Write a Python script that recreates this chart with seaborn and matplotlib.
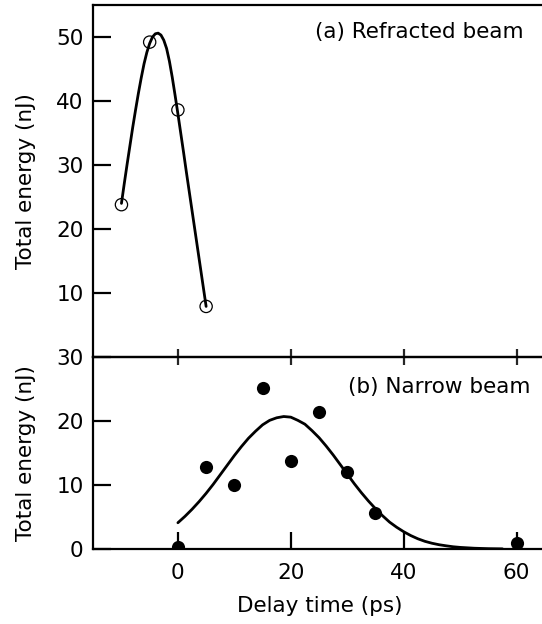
import matplotlib
matplotlib.use("Agg")
import matplotlib.pyplot as plt
import seaborn as sns
import pandas as pd

# ---- data ----
# (a) Refracted beam: measured points (open circles)
a_delay = [-10, -5, 0, 5]
a_energy = [23.8, 49.2, 38.6, 7.9]
# (a) smooth guide curve
a_curve_delay = [-10, -9.5, -9, -8.5, -8, -7.5, -7, -6.5, -6, -5.5, -5, -4.5, -4, -3.5, -3,
                 -2.5, -2, -1.5, -1, -0.5, 0, 0.5, 1, 1.5, 2, 2.5, 3, 3.5, 4, 4.5, 5]
a_curve_energy = [24.0, 27.1, 30.1, 33.0, 35.9, 38.6, 41.2, 43.6, 45.8, 47.6, 49.0, 50.0, 50.5, 50.6, 50.3,
                  49.5, 48.2, 46.2, 43.7, 40.9, 38.0, 35.0, 32.0, 28.9, 25.9, 22.9, 19.9, 16.9, 13.9, 10.9, 7.9]

# (b) Narrow beam: measured points (filled circles)
b_delay = [0, 5, 10, 15, 20, 25, 30, 35, 60]
b_energy = [0.3, 12.8, 10.0, 25.2, 13.7, 21.4, 12.0, 5.6, 1.0]
# (b) fitted curve
b_curve_delay = [0, 1.25, 2.5, 3.75, 5, 6.25, 7.5, 8.75, 10, 11.25, 12.5, 13.75, 15, 16.25,
                 17.5, 18.75, 20, 21.25, 22.5, 23.75, 25, 26.25, 27.5, 28.75, 30, 31.25,
                 32.5, 33.75, 35, 36.25, 37.5, 38.75, 40, 41.25, 42.5, 43.75, 45, 46.25,
                 47.5, 48.75, 50, 52.5, 55, 57.5]
b_curve_energy = [4.1, 5.1, 6.2, 7.4, 8.7, 10.1, 11.6, 13.1, 14.6, 16.0, 17.3, 18.4, 19.4, 20.1,
                  20.5, 20.7, 20.6, 20.1, 19.5, 18.5, 17.4, 16.1, 14.7, 13.2, 11.7, 10.2,
                  8.8, 7.5, 6.3, 5.2, 4.2, 3.4, 2.7, 2.1, 1.6, 1.2, 0.9, 0.67,
                  0.5, 0.35, 0.25, 0.12, 0.05, 0.02]

x_ticks = [0, 20, 40, 60]
a_yticks = [10, 20, 30, 40, 50]
b_yticks = [0, 10, 20, 30]

sns.set_theme(style="white")
plt.rcParams['font.family'] = ['DejaVu Sans']
FS = 15.5

fig = plt.figure(figsize=(5.42, 6.24), dpi=100)
gs = fig.add_gridspec(2, 1, height_ratios=[55, 30], hspace=0,
                      left=0.172, right=1.0, top=0.992, bottom=0.1202)
ax1 = fig.add_subplot(gs[0])
ax2 = fig.add_subplot(gs[1], sharex=ax1)

dfa = pd.DataFrame({"t": a_delay, "e": a_energy})
dfac = pd.DataFrame({"t": a_curve_delay, "e": a_curve_energy})
dfb = pd.DataFrame({"t": b_delay, "e": b_energy})
dfbc = pd.DataFrame({"t": b_curve_delay, "e": b_curve_energy})

sns.lineplot(data=dfac, x="t", y="e", ax=ax1, color="black", lw=2.0, sort=False)
sns.scatterplot(data=dfa, x="t", y="e", ax=ax1, marker="o", s=78,
                facecolor="none", edgecolor="black", linewidth=0.9, zorder=3)

sns.lineplot(data=dfbc, x="t", y="e", ax=ax2, color="black", lw=2.0, sort=False)
sns.scatterplot(data=dfb, x="t", y="e", ax=ax2, marker="o", s=90,
                color="black", edgecolor="black", linewidth=0, zorder=3)

ax1.set_xlim(-15, 64.5)
ax1.set_ylim(0, 55)
ax2.set_ylim(0, 30)

for ax in (ax1, ax2):
    for side in ("left", "top", "bottom"):
        ax.spines[side].set_visible(True)
        ax.spines[side].set_color("black")
        ax.spines[side].set_linewidth(1.6)
    ax.spines["right"].set_visible(False)
    ax.set_facecolor("white")

ax1.set_yticks(a_yticks)
ax2.set_yticks(b_yticks)
ax2.set_xticks(x_ticks)

ax1.tick_params(axis="y", direction="in", length=13, width=1.6, labelsize=FS, pad=7, colors="black", left=True)
ax2.tick_params(axis="y", direction="in", length=13, width=1.6, labelsize=FS, pad=7, colors="black", left=True)
# shared boundary: ticks crossing the line
ax1.tick_params(axis="x", direction="inout", length=11, width=1.6, bottom=True, top=False, labelbottom=False)
ax2.tick_params(axis="x", direction="in", length=12.5, width=1.6, labelsize=FS, pad=10, colors="black",
                bottom=True, top=False)
ax1.set_zorder(2)
ax1.patch.set_alpha(0)
ax2.set_zorder(1)

ax1.set_xlabel("")
ax1.set_ylabel("Total energy (nJ)", fontsize=FS, color="black")
ax2.set_ylabel("Total energy (nJ)", fontsize=FS, color="black")
ax2.set_xlabel("Delay time (ps)", fontsize=FS, color="black")
ax1.yaxis.set_label_coords(-0.128, 0.5)
ax2.yaxis.set_label_coords(-0.128, 0.5)
ax2.xaxis.set_label_coords(0.505, -0.245)

ax1.text(61.3, 50.8, "(a) Refracted beam", ha="right", va="center", fontsize=FS, color="black")
ax2.text(62.5, 25.3, "(b) Narrow beam", ha="right", va="center", fontsize=FS, color="black")

fig.savefig("out.png", dpi=100, facecolor="white")
